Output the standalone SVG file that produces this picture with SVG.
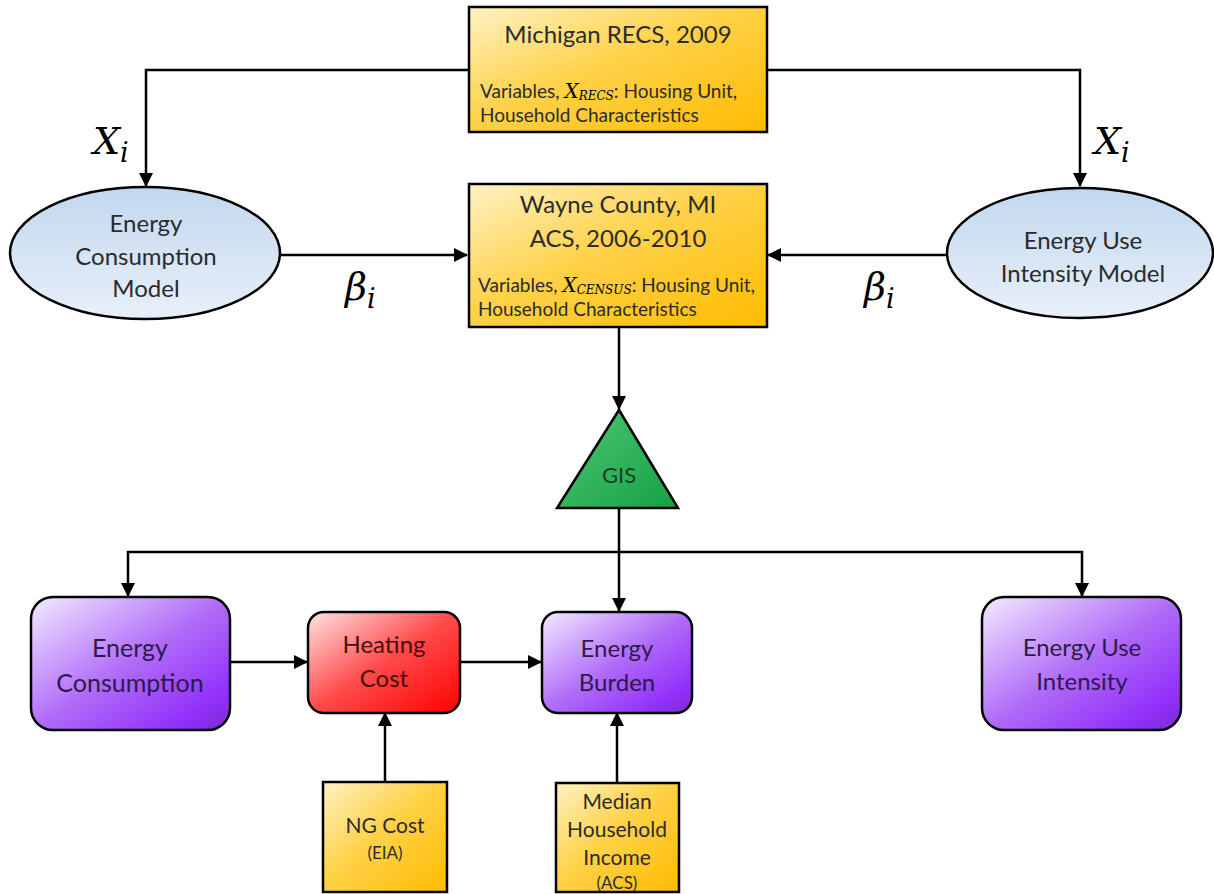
<svg xmlns="http://www.w3.org/2000/svg" width="1214" height="894" viewBox="0 0 1214 894">
<defs>
<linearGradient id="gold" x1="0" y1="0" x2="1" y2="1">
<stop offset="0" stop-color="#fff2c4"/>
<stop offset="0.45" stop-color="#ffd24a"/>
<stop offset="1" stop-color="#ffbb00"/>
</linearGradient>
<linearGradient id="purple" x1="0" y1="0" x2="1" y2="1">
<stop offset="0" stop-color="#f3ebff"/>
<stop offset="0.5" stop-color="#b06cf8"/>
<stop offset="0.85" stop-color="#9230fb"/>
<stop offset="1" stop-color="#7a2ad0"/>
</linearGradient>
<linearGradient id="red" x1="0" y1="0" x2="1" y2="1">
<stop offset="0" stop-color="#ffe3e3"/>
<stop offset="0.5" stop-color="#ff4a4a"/>
<stop offset="1" stop-color="#ff0000"/>
</linearGradient>
<linearGradient id="blue" x1="0" y1="0" x2="0" y2="1">
<stop offset="0" stop-color="#c2d7ee"/>
<stop offset="1" stop-color="#e8f0fa"/>
</linearGradient>
<linearGradient id="green" x1="0" y1="0" x2="1" y2="1">
<stop offset="0" stop-color="#4fc774"/>
<stop offset="1" stop-color="#16a046"/>
</linearGradient>
<marker id="arr" markerUnits="userSpaceOnUse" markerWidth="14" markerHeight="14" viewBox="0 0 14 14" refX="13" refY="7" orient="auto">
<path d="M0,0 L14,7 L0,14 Z" fill="#000"/>
</marker>
</defs>
<style>
.box{stroke:#000;stroke-width:2.5}
.t{font-family:Lato,"Open Sans","Liberation Sans",sans-serif;text-anchor:middle;fill:#2b2b2b}
.l{font-family:Lato,"Open Sans","Liberation Sans",sans-serif;text-anchor:start;fill:#2b2b2b}
.tp{font-family:Lato,"Open Sans","Liberation Sans",sans-serif;text-anchor:middle;fill:#2d1a4a}
.m{font-family:"DejaVu Serif","Liberation Serif",serif;font-style:italic;fill:#000}
.c{fill:none;stroke:#000;stroke-width:2.5}
</style>
<rect width="1214" height="894" fill="#fff"/>
<g id="connectors">
<path class="c" d="M469,70 H146 V186" marker-end="url(#arr)"/>
<path class="c" d="M767,70 H1080 V186" marker-end="url(#arr)"/>
<path class="c" d="M280,255 H467" marker-end="url(#arr)"/>
<path class="c" d="M947,255 H768" marker-end="url(#arr)"/>
<path class="c" d="M619,327 V409" marker-end="url(#arr)"/>
<path class="c" d="M619,508 V611" marker-end="url(#arr)"/>
<path class="c" d="M619,552 H128 V596" marker-end="url(#arr)"/>
<path class="c" d="M619,552 H1082 V596" marker-end="url(#arr)"/>
<path class="c" d="M231,662 H307" marker-end="url(#arr)"/>
<path class="c" d="M460,662 H541" marker-end="url(#arr)"/>
<path class="c" d="M385,782 V713" marker-end="url(#arr)"/>
<path class="c" d="M617,783 V713" marker-end="url(#arr)"/>
<text class="m" x="93" y="154" font-size="38">X<tspan font-size="27" dy="8">i</tspan></text>
<text class="m" x="1094" y="154" font-size="38">X<tspan font-size="27" dy="8">i</tspan></text>
<text class="m" x="345" y="300" font-size="38">β<tspan font-size="27" dy="8">i</tspan></text>
<text class="m" x="864" y="300" font-size="38">β<tspan font-size="27" dy="8">i</tspan></text>
</g>
<g id="michigan">
<rect class="box" x="469" y="7" width="298" height="125" fill="url(#gold)"/>
<text class="t" x="618" y="43" font-size="24">Michigan RECS, 2009</text>
<text class="l" x="480" y="98" font-size="19">Variables, <tspan class="m" font-size="20">X</tspan><tspan class="m" font-size="12" dy="2">RECS</tspan><tspan dy="-2">: Housing Unit,</tspan></text>
<text class="l" x="480" y="122" font-size="19">Household Characteristics</text>
</g>
<g id="wayne">
<rect class="box" x="469" y="184" width="298" height="143" fill="url(#gold)"/>
<text class="t" x="618" y="213" font-size="24">Wayne County, MI</text>
<text class="t" x="618" y="247" font-size="24">ACS, 2006-2010</text>
<text class="l" x="478" y="292" font-size="19">Variables, <tspan class="m" font-size="20">X</tspan><tspan class="m" font-size="12" dy="2">CENSUS</tspan><tspan dy="-2">: Housing Unit,</tspan></text>
<text class="l" x="478" y="316" font-size="19">Household Characteristics</text>
</g>
<g id="ec-model">
<ellipse class="box" cx="145" cy="253" rx="135" ry="66" fill="url(#blue)"/>
<text class="t" x="146" y="232" font-size="24">Energy</text>
<text class="t" x="146" y="265" font-size="24">Consumption</text>
<text class="t" x="146" y="297" font-size="24">Model</text>
</g>
<g id="eui-model">
<ellipse class="box" cx="1080" cy="253" rx="133" ry="65" fill="url(#blue)"/>
<text class="t" x="1083" y="249" font-size="24">Energy Use</text>
<text class="t" x="1083" y="282" font-size="24">Intensity Model</text>
</g>
<g id="gis">
<polygon class="box" points="619,410 678,508 557,508" fill="url(#green)"/>
<text class="t" x="619" y="483" font-size="22" style="fill:#14401f">GIS</text>
</g>
<g id="energy-consumption">
<rect class="box" x="31" y="597" width="199" height="133" rx="22" fill="url(#purple)"/>
<text class="tp" x="130" y="657" font-size="25">Energy</text>
<text class="tp" x="130" y="692" font-size="25">Consumption</text>
</g>
<g id="heating-cost">
<rect class="box" x="308" y="612" width="152" height="101" rx="16" fill="url(#red)"/>
<text class="tp" x="384" y="653" font-size="24" style="fill:#4a0d0d">Heating</text>
<text class="tp" x="384" y="687" font-size="24" style="fill:#4a0d0d">Cost</text>
</g>
<g id="energy-burden">
<rect class="box" x="542" y="612" width="150" height="101" rx="16" fill="url(#purple)"/>
<text class="tp" x="617" y="657" font-size="24">Energy</text>
<text class="tp" x="617" y="691" font-size="24">Burden</text>
</g>
<g id="energy-use-intensity">
<rect class="box" x="982" y="597" width="199" height="133" rx="22" fill="url(#purple)"/>
<text class="tp" x="1082" y="656" font-size="24">Energy Use</text>
<text class="tp" x="1082" y="690" font-size="24">Intensity</text>
</g>
<g id="ng-cost">
<rect class="box" x="323" y="782" width="124" height="110" fill="url(#gold)"/>
<text class="t" x="385" y="833" font-size="21">NG Cost</text>
<text class="t" x="385" y="859" font-size="17">(EIA)</text>
</g>
<g id="median-income">
<rect class="box" x="556" y="783" width="123" height="109" fill="url(#gold)"/>
<text class="t" x="617" y="809" font-size="21">Median</text>
<text class="t" x="617" y="837" font-size="21">Household</text>
<text class="t" x="617" y="865" font-size="21">Income</text>
<text class="t" x="617" y="889" font-size="17">(ACS)</text>
</g>
</svg>
